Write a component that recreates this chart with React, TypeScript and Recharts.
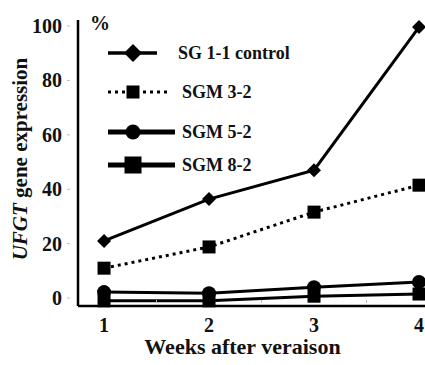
import React from "react";
import { LineChart, Line, XAxis, YAxis } from "recharts";

const weeks = [1, 2, 3, 4];
const control = [21, 36.4, 47, 99.6];
const sgm32 = [11, 18.8, 31.6, 41.5];
const sgm52 = [2.2, 1.8, 4, 5.9];
const sgm82 = [-1, -1, 0.7, 1.5];
const yTicks = [0, 20, 40, 60, 80, 100];
const xTicks = [1, 1.5, 2, 2.5, 3, 3.5, 4];

const data = weeks.map((w, i) => ({
  week: w,
  control: control[i],
  sgm32: sgm32[i],
  sgm52: sgm52[i],
  sgm82: sgm82[i],
}));

const FONT = "'Liberation Serif', 'DejaVu Serif', serif";

// marker shapes
const Diamond = ({ cx, cy, s = 7 }: any) => (
  <polygon points={`${cx},${cy - s} ${cx + s},${cy} ${cx},${cy + s} ${cx - s},${cy}`} fill="#000" />
);
const Square = ({ cx, cy, s = 6.5 }: any) => (
  <rect x={cx - s} y={cy - s} width={s * 2} height={s * 2} fill="#000" />
);
const Circle = ({ cx, cy, r = 7 }: any) => <circle cx={cx} cy={cy} r={r} fill="#000" />;

const YTick = ({ x, y, payload }: any) => (
  <g>
    <text x={x - 8} y={y + 7} textAnchor="end" fontSize={20} fontWeight="bold" fontFamily={FONT} fill="#111">
      {payload.value}
    </text>
    <line x1={x - 3} x2={x} y1={y} y2={y} stroke="#bbb" strokeWidth={1} />
  </g>
);

const XTick = ({ x, y, payload }: any) => {
  if (!Number.isInteger(payload.value)) {
    return <line x1={x} x2={x} y1={y - 14} y2={y - 11} stroke="#bbb" strokeWidth={1} />;
  }
  return (
    <text x={x} y={y + 18} textAnchor="middle" fontSize={20} fontWeight="bold" fontFamily={FONT} fill="#111">
      {payload.value}
    </text>
  );
};

const YLabel = ({ viewBox }: any) => {
  const cx = viewBox.x + 27;
  const cy = viewBox.y + viewBox.height / 2 - 4;
  return (
    <text
      x={cx}
      y={cy}
      transform={`rotate(-90, ${cx}, ${cy})`}
      textAnchor="middle"
      fontSize={21}
      fontWeight="bold"
      fontFamily={FONT}
      fill="#111"
    >
      <tspan fontStyle="italic">UFGT</tspan>
      <tspan> gene expression</tspan>
    </text>
  );
};

const XLabel = ({ viewBox }: any) => (
  <text
    x={viewBox.x + viewBox.width / 2 - 9}
    y={viewBox.y + 48}
    textAnchor="middle"
    fontSize={22}
    fontWeight="bold"
    fontFamily={FONT}
    fill="#111"
  >
    Weeks after veraison
  </text>
);

const legendRows = [
  { name: "SG 1-1 control", marker: "diamond", dash: undefined, x2: 157, width: 3.5 },
  { name: "SGM 3-2", marker: "square", dash: "3 4", x2: 167, width: 3 },
  { name: "SGM 5-2", marker: "circle", dash: undefined, x2: 175, width: 5 },
  { name: "SGM 8-2", marker: "bigsquare", dash: undefined, x2: 175, width: 5 },
];

const LegendBox = () => (
  <svg width={240} height={180} style={{ position: "absolute", left: 88, top: 6 }}>
    <text x={2} y={24} fontSize={20} fontWeight="bold" fontFamily={FONT} fill="#111">
      %
    </text>
    {legendRows.map((r, i) => {
      const cy = [47, 86, 126, 159][i];
      const cx = 45;
      return (
        <g key={r.name}>
          <line x1={20} x2={r.x2 - 88} y1={cy} y2={cy} stroke="#000" strokeWidth={r.width} strokeDasharray={r.dash} />
          {r.marker === "diamond" && <Diamond cx={cx} cy={cy} s={9} />}
          {r.marker === "square" && <Square cx={cx} cy={cy} s={6.5} />}
          {r.marker === "circle" && <Circle cx={cx} cy={cy} r={7.5} />}
          {r.marker === "bigsquare" && <Square cx={cx} cy={cy} s={8.5} />}
          <text x={i === 0 ? 90 : 94} y={cy + 6} fontSize={18} fontWeight="bold" fontFamily={FONT} fill="#111">
            {r.name}
          </text>
        </g>
      );
    })}
  </svg>
);

export default function App() {
  return (
    <div style={{ position: "absolute", left: 0, top: 0, width: 425, height: 365, background: "#fff" }}>
      <LineChart width={425} height={365} data={data} margin={{ top: 20, right: 0, bottom: 0, left: 0 }} style={{ fontFamily: FONT }}>
        <XAxis
          dataKey="week"
          type="number"
          domain={[0.752, 4.057]}
          ticks={xTicks}
          tickLine={false}
          tick={<XTick />}
          height={59}
          axisLine={{ stroke: "#000", strokeWidth: 2.5 }}
          label={<XLabel />}
          allowDecimals
        />
        <YAxis
          type="number"
          domain={[-2.9, 102.2]}
          ticks={yTicks}
          tickLine={false}
          tick={<YTick />}
          width={78}
          axisLine={{ stroke: "#000", strokeWidth: 2.5 }}
          label={<YLabel />}
        />
        <Line dataKey="sgm82" stroke="#000" strokeWidth={3} isAnimationActive={false} dot={(p: any) => <Square key={p.index} cx={p.cx} cy={p.cy} />} />
        <Line dataKey="sgm52" stroke="#000" strokeWidth={3} isAnimationActive={false} dot={(p: any) => <Circle key={p.index} cx={p.cx} cy={p.cy} />} />
        <Line dataKey="sgm32" stroke="#000" strokeWidth={3} strokeDasharray="3 4" isAnimationActive={false} dot={(p: any) => <Square key={p.index} cx={p.cx} cy={p.cy} />} />
        <Line dataKey="control" stroke="#000" strokeWidth={3} isAnimationActive={false} dot={(p: any) => <Diamond key={p.index} cx={p.cx} cy={p.cy} />} />
      </LineChart>
      <LegendBox />
    </div>
  );
}
